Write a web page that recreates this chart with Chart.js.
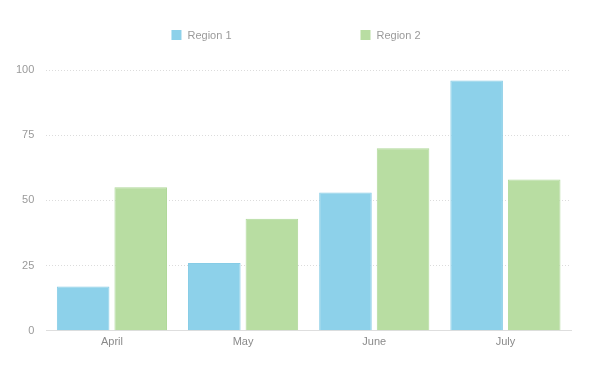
<!DOCTYPE html>
<html>
<head>
<meta charset="utf-8">
<script src="https://cdn.jsdelivr.net/npm/chart.js@4/dist/chart.umd.min.js"></script>
<style>
  html, body { margin: 0; padding: 0; background: #fff; }
  #wrap { width: 600px; height: 381px; position: relative; }
</style>
</head>
<body>
<div id="wrap"><canvas id="chart"></canvas></div>
<script>
// Chart data
const months = ['April', 'May', 'June', 'July'];
const region1 = [17, 26, 53, 96];
const region2 = [55, 43, 70, 58];
const seriesNames = ['Region 1', 'Region 2'];

const FONT = '"Liberation Sans", Arial, sans-serif';

// Simple legend drawn on top, items spread far apart like the original
const spreadLegend = {
    id: 'spreadLegend',
    afterDraw(chart) {
        const ctx = chart.ctx;
        const gap = 129;
        const box = 10;
        ctx.save();
        ctx.font = '11px ' + FONT;
        ctx.textBaseline = 'middle';
        const items = chart.data.datasets.map(ds => ({
            label: ds.label,
            color: ds.backgroundColor,
            w: box + 6 + ctx.measureText(ds.label).width
        }));
        const total = items.reduce((s, it) => s + it.w, 0) + gap * (items.length - 1);
        let x = 296 - total / 2;
        const y = 35;
        items.forEach(it => {
            ctx.fillStyle = it.color;
            ctx.fillRect(x, y - box / 2, box, box);
            ctx.fillStyle = '#9a9a9a';
            ctx.fillText(it.label, x + box + 6, y + 1);
            x += it.w + gap;
        });
        ctx.restore();
    }
};

new Chart(document.getElementById('chart'), {
    type: 'bar',
    data: {
        labels: months,
        datasets: [
            {
                label: seriesNames[0],
                data: region1,
                backgroundColor: '#8dd1ea',
                borderColor: '#86cce6',
                borderWidth: 1
            },
            {
                label: seriesNames[1],
                data: region2,
                backgroundColor: '#b8dda2',
                borderColor: '#b0d99b',
                borderWidth: 1
            }
        ]
    },
    options: {
        responsive: true,
        maintainAspectRatio: false,
        animation: false,
        datasets: {
            bar: {
                categoryPercentage: 0.878,
                barPercentage: 0.913
            }
        },
        layout: {
            padding: { top: 70, left: 4, right: 29, bottom: 27 }
        },
        plugins: {
            legend: { display: false },
            tooltip: { enabled: false }
        },
        scales: {
            x: {
                grid: { display: false, drawTicks: false },
                border: { display: true, color: '#dedede', width: 1 },
                ticks: {
                    color: '#8a8a8a',
                    font: { family: FONT, size: 11 },
                    padding: 5
                }
            },
            y: {
                min: 0,
                max: 100,
                grid: {
                    color: '#dcdcdc',
                    drawTicks: false
                },
                border: { display: false, dash: [1, 2] },
                ticks: {
                    stepSize: 25,
                    color: '#9a9a9a',
                    font: { family: FONT, size: 11 },
                    padding: 12
                }
            }
        }
    },
    plugins: [spreadLegend]
});
</script>
</body>
</html>
